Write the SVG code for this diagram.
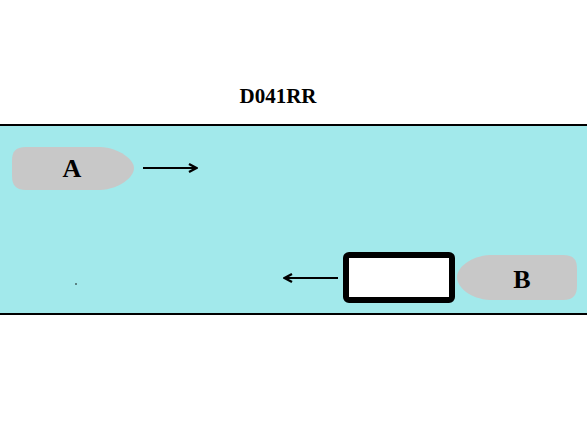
<svg xmlns="http://www.w3.org/2000/svg" width="587" height="440" viewBox="0 0 587 440">
<style>
.lbl{font-family:"Liberation Serif",serif;font-weight:bold;fill:#000;text-anchor:middle}
.boat{fill:#c8c8c8}
.conn{stroke:#000;stroke-width:2;fill:none}
</style>
<defs>
<marker id="ah" viewBox="0 0 12 12" refX="11" refY="6" markerWidth="12" markerHeight="12" orient="auto" markerUnits="userSpaceOnUse">
<path d="M3,2 L10.5,6 L3,10" fill="none" stroke="#000" stroke-width="2.4"/>
</marker>
</defs>
<rect width="587" height="440" fill="#fff"/>
<g id="river">
<rect x="0" y="125" width="587" height="189" fill="#a2e9eb"/>
<line x1="0" y1="125" x2="587" y2="125" stroke="#000" stroke-width="2"/>
<line x1="0" y1="314" x2="587" y2="314" stroke="#000" stroke-width="2"/>
<circle cx="76" cy="284" r="0.8" fill="#000"/>
</g>
<text class="lbl" x="278" y="103" font-size="21">D041RR</text>
<g id="boatA">
<path class="boat" d="M26,147 L100,147 C120,148 134,160 134,168 C134,177 120,189 100,190 L26,190 C15,190 12,184 12,176 L12,161 C12,152 15,147 26,147 Z"/>
<text class="lbl" x="72" y="177" font-size="26">A</text>
</g>
<g id="boatB">
<path class="boat" d="M563,255 L490,255 C470,256 457,268 457,277 C457,287 470,299 490,300 L563,300 C574,300 577,294 577,286 L577,269 C577,260 574,255 563,255 Z"/>
<text class="lbl" x="522" y="288" font-size="26">B</text>
</g>
<g id="box">
<rect x="346" y="255" width="106" height="45" rx="3" fill="#fff" stroke="#000" stroke-width="6"/>
</g>
<g id="connectors">
<line class="conn" x1="143" y1="168" x2="197" y2="168" marker-end="url(#ah)"/>
<line class="conn" x1="338" y1="278" x2="284" y2="278" marker-end="url(#ah)"/>
</g>
</svg>
